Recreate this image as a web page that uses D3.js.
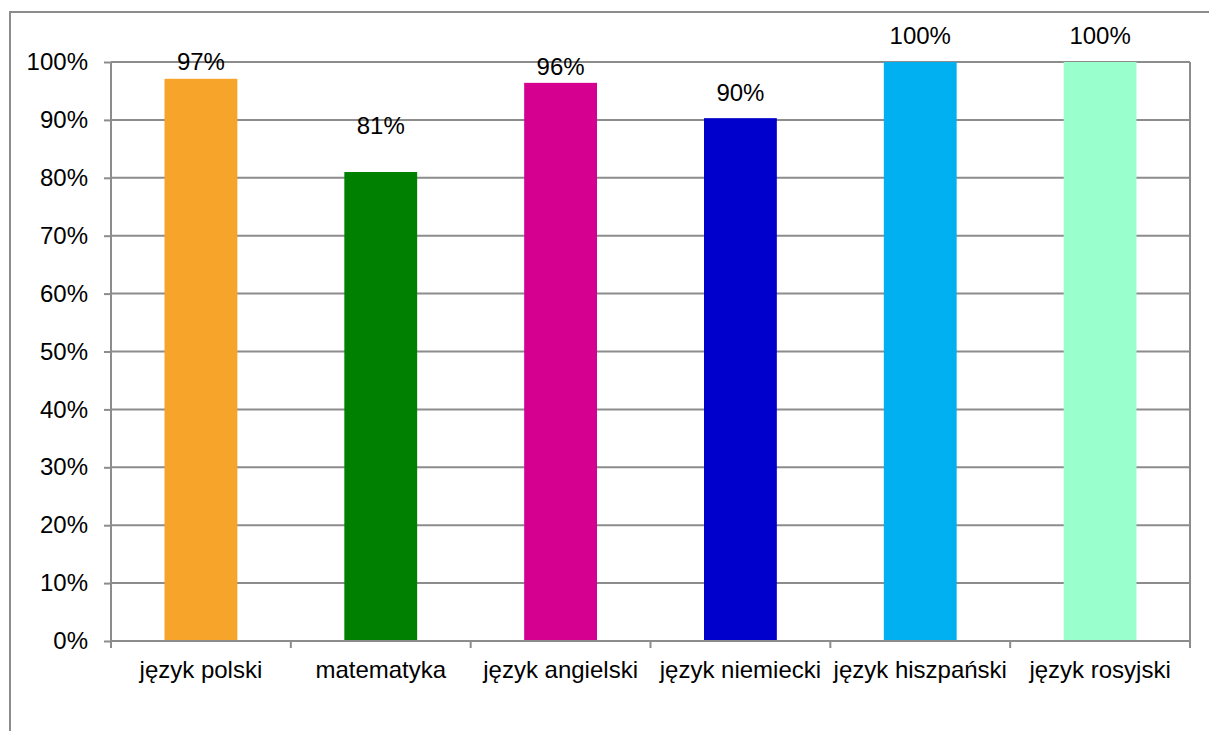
<!DOCTYPE html>
<html><head><meta charset="utf-8">
<script src="https://cdn.jsdelivr.net/npm/d3@7"></script>
<style>body{margin:0;background:#fff}svg{display:block}text{font-family:"Liberation Sans",Arial,sans-serif;fill:#000}</style>
</head><body>
<script>
const categories = ["język polski","matematyka","język angielski","język niemiecki","język hiszpański","język rosyjski"];
const values = [0.971, 0.81, 0.964, 0.903, 1.0, 1.0];
const valueLabels = ["97%","81%","96%","90%","100%","100%"];
const colors = ["#F7A52A","#008000","#D5008F","#0000CC","#00B0F0","#99FFCC"];
const labelLift = [17, 46, 16, 26, 26, 26];
const yTicks = [0,0.1,0.2,0.3,0.4,0.5,0.6,0.7,0.8,0.9,1.0];

const W=1209,H=731;
const FS=24;
const m={left:111,right:1190,top:62,bottom:641};
const svg=d3.select("body").append("svg").attr("width",W).attr("height",H);
svg.append("rect").attr("x",10).attr("y",12).attr("width",W+20).attr("height",H+20)
  .attr("fill","none").attr("stroke","#8c8c8c").attr("stroke-width",2);

const x=d3.scaleBand().domain(categories).range([m.left,m.right]).paddingInner(0).paddingOuter(0);
const y=d3.scaleLinear().domain([0,1]).range([m.bottom,m.top]);
const grid="#8c8c8c";

// gridlines
svg.append("g").selectAll("line").data(yTicks.filter(d=>d>0)).join("line")
  .attr("x1",m.left).attr("x2",m.right).attr("y1",d=>y(d)).attr("y2",d=>y(d))
  .attr("stroke",grid).attr("stroke-width",2);
// right border of plot
svg.append("line").attr("x1",m.right).attr("x2",m.right).attr("y1",m.top).attr("y2",m.bottom)
  .attr("stroke",grid).attr("stroke-width",2);

// bars
const bw=x.bandwidth()*0.405;
svg.append("g").selectAll("rect").data(values).join("rect")
  .attr("x",(d,i)=>x(categories[i])+x.bandwidth()/2-bw/2)
  .attr("width",bw)
  .attr("y",d=>y(d)).attr("height",d=>y(0)-y(d))
  .attr("fill",(d,i)=>colors[i]);

// y axis
const ya=svg.append("g").attr("transform",`translate(${m.left},0)`)
  .call(d3.axisLeft(y).tickValues(yTicks).tickFormat(d3.format(".0%")).tickSize(7).tickPadding(16));
ya.select(".domain").attr("stroke",grid).attr("stroke-width",2).attr("d",`M0,${m.top}V${m.bottom}`);
ya.selectAll(".tick line").attr("stroke",grid).attr("stroke-width",2);
ya.selectAll(".tick text").attr("font-size",FS).attr("font-family",'"Liberation Sans",Arial,sans-serif').attr("fill","#000");

// x axis
const xa=svg.append("g").attr("transform",`translate(0,${m.bottom})`)
  .call(d3.axisBottom(x).tickSize(0).tickPadding(20));
xa.select(".domain").attr("stroke",grid).attr("stroke-width",2).attr("d",`M${m.left},0H${m.right}`);
xa.selectAll(".tick text").attr("font-size",FS).attr("font-family",'"Liberation Sans",Arial,sans-serif').attr("fill","#000");
// category boundary ticks
const bounds=categories.map(c=>x(c)).concat([m.right]);
svg.append("g").selectAll("line").data(bounds).join("line")
  .attr("x1",d=>d).attr("x2",d=>d).attr("y1",m.bottom).attr("y2",m.bottom+7)
  .attr("stroke",grid).attr("stroke-width",2);

// value labels
svg.append("g").selectAll("text").data(values).join("text")
  .attr("x",(d,i)=>x(categories[i])+x.bandwidth()/2)
  .attr("y",(d,i)=>y(d)-labelLift[i])
  .attr("dy","0.35em")
  .attr("text-anchor","middle").attr("font-size",FS)
  .text((d,i)=>valueLabels[i]);
</script>
</body></html>
